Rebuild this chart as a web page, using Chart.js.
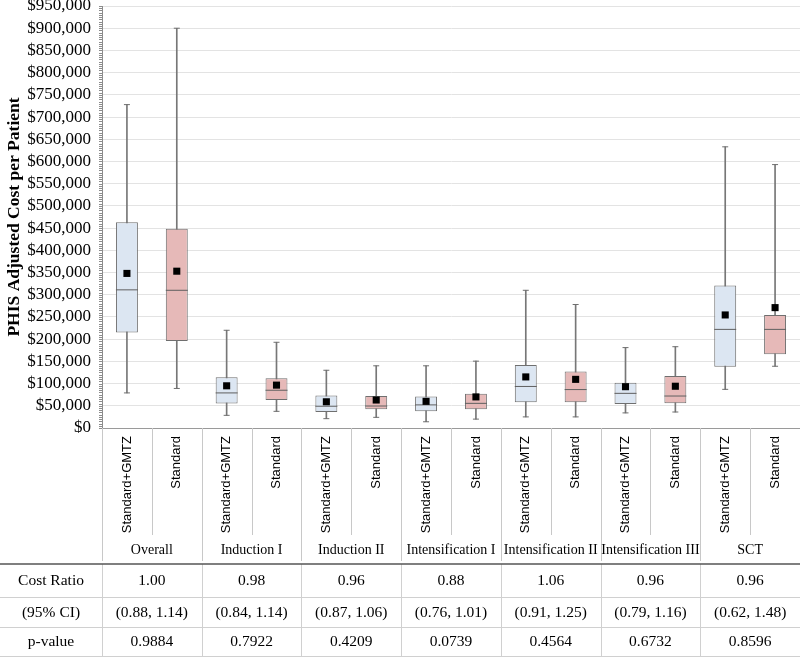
<!DOCTYPE html>
<html lang="en">
<head>
  <meta charset="UTF-8" />
  <title>PHIS Adjusted Cost per Patient</title>
  <script src="https://cdn.jsdelivr.net/npm/chart.js"></script>
  <style>
    body { margin: 0; background: #fff; }
    #wrap { width: 800px; height: 658px; }
  </style>
</head>
<body>
  <div id="wrap"><canvas id="grafica" width="800" height="658"></canvas></div>
  <script>
    // categories
    const grupos = ['Overall', 'Induction I', 'Induction II', 'Intensification I', 'Intensification II', 'Intensification III', 'SCT'];
    const brazos = ['Standard+GMTZ', 'Standard'];

    // box plot values, one per box (GMTZ, Standard alternating)
    const minimos = [79000, 89000, 28500, 37500, 21000, 24000, 14000, 20000, 25000, 25000, 34000, 36000, 87000, 139000];
    const q1 = [215000, 196000, 55000, 63000, 36000, 42000, 37500, 42000, 58000, 58000, 54000, 55500, 138000, 166000];
    const medianas = [311000, 310000, 79000, 85000, 49000, 49500, 52000, 55500, 93500, 86500, 78000, 72000, 222000, 222000];
    const q3 = [463000, 448500, 114000, 112000, 73000, 72000, 71000, 77000, 142000, 127000, 102000, 117000, 321000, 254500];
    const maximos = [728000, 900000, 220000, 193000, 130000, 140000, 140000, 150500, 310000, 278000, 181000, 183000, 633000, 593000];
    const medias = [348000, 353000, 95000, 96500, 59000, 63000, 60000, 70000, 115000, 109500, 93000, 94000, 254500, 271000];

    // table below the chart
    const filasTabla = ['Cost Ratio', '(95% CI)', 'p-value'];
    const razonCosto = ['1.00', '0.98', '0.96', '0.88', '1.06', '0.96', '0.96'];
    const intervalos = ['(0.88, 1.14)', '(0.84, 1.14)', '(0.87, 1.06)', '(0.76, 1.01)', '(0.91, 1.25)', '(0.79, 1.16)', '(0.62, 1.48)'];
    const valoresP = ['0.9884', '0.7922', '0.4209', '0.0739', '0.4564', '0.6732', '0.8596'];

    const etiquetas = [];
    grupos.forEach(() => brazos.forEach(b => etiquetas.push(b)));
    const rellenos = etiquetas.map((e, i) => i % 2 === 0 ? '#dce6f2' : '#e6b9b8');

    const SERIF = "'Liberation Serif', 'Times New Roman', serif";
    const SANS = "'Liberation Sans', Arial, sans-serif";

    const tablaPlugin = {
      id: 'tabla',
      afterDraw(chart) {
        const ctx = chart.ctx;
        const x = chart.scales.x;
        const y = chart.scales.y;
        const ancho = x.width / etiquetas.length;
        const base = chart.chartArea.bottom;
        const left = chart.chartArea.left;
        ctx.save();

        // minor ticks on the y axis
        ctx.strokeStyle = '#8c8c8c';
        ctx.lineWidth = 1;
        ctx.beginPath();
        for (let v = 0; v <= 950000; v += 5000) {
          const py = Math.round(y.getPixelForValue(v)) + 0.5;
          ctx.moveTo(left - 3, py);
          ctx.lineTo(left, py);
        }
        ctx.stroke();

        // separators in the category area
        ctx.strokeStyle = '#c8c8c8';
        ctx.beginPath();
        for (let i = 0; i < etiquetas.length; i++) {
          const px = Math.round(left + i * ancho) + 0.5;
          ctx.moveTo(px, base);
          ctx.lineTo(px, i % 2 === 0 ? 561 : 535);
        }
        ctx.stroke();

        // group labels
        ctx.fillStyle = '#000';
        ctx.font = '14px ' + SERIF;
        ctx.textAlign = 'center';
        ctx.textBaseline = 'middle';
        grupos.forEach((g, i) => {
          ctx.fillText(g, left + (i * 2 + 1) * ancho, 550);
        });

        // table lines
        const lineasY = [597, 627, 656];
        ctx.strokeStyle = '#d0d0d0';
        ctx.beginPath();
        lineasY.forEach(ly => { ctx.moveTo(0, ly + 0.5); ctx.lineTo(800, ly + 0.5); });
        for (let g = 0; g < grupos.length; g++) {
          const px = Math.round(left + g * 2 * ancho) + 0.5;
          ctx.moveTo(px, 564);
          ctx.lineTo(px, 656);
        }
        ctx.stroke();
        ctx.strokeStyle = '#555';
        ctx.lineWidth = 1.5;
        ctx.beginPath();
        ctx.moveTo(0, 564);
        ctx.lineTo(800, 564);
        ctx.stroke();

        // table text
        ctx.font = '15.5px ' + SERIF;
        const filasY = [581, 612.5, 641.5];
        const columnas = [razonCosto, intervalos, valoresP];
        filasTabla.forEach((f, r) => {
          ctx.fillText(f, left / 2, filasY[r]);
          columnas[r].forEach((t, g) => {
            ctx.fillText(t, left + (g * 2 + 1) * ancho, filasY[r]);
          });
        });
        ctx.restore();
      }
    };

    new Chart(document.getElementById('grafica'), {
      type: 'bar',
      data: {
        labels: etiquetas,
        datasets: [
          {
            type: 'line', label: 'Mean', data: medias, showLine: false,
            pointStyle: 'rect', pointRadius: 5, pointBackgroundColor: '#000', pointBorderColor: '#000', pointBorderWidth: 0
          },
          {
            type: 'line', label: 'Median', data: medianas, showLine: false,
            pointStyle: 'line', pointRadius: 11, pointBorderColor: '#5f5f5f', pointBorderWidth: 1
          },
          {
            type: 'line', label: 'Max', data: maximos, showLine: false,
            pointStyle: 'line', pointRadius: 3, pointBorderColor: '#6f6f6f', pointBorderWidth: 1
          },
          {
            type: 'line', label: 'Min', data: minimos, showLine: false,
            pointStyle: 'line', pointRadius: 3, pointBorderColor: '#6f6f6f', pointBorderWidth: 1
          },
          {
            label: 'Box', data: q1.map((v, i) => [v, q3[i]]), grouped: false,
            backgroundColor: rellenos, borderColor: '#6f6f6f', borderWidth: 1, borderSkipped: false,
            categoryPercentage: 1, barPercentage: 0.44
          },
          {
            label: 'Whisker', data: minimos.map((v, i) => [v, maximos[i]]), grouped: false,
            backgroundColor: '#777', barThickness: 1
          }
        ]
      },
      options: {
        responsive: false,
        animation: false,
        events: [],
        layout: { autoPadding: false, padding: { top: 6, right: 0, bottom: 95, left: 0 } },
        plugins: { legend: { display: false }, tooltip: { enabled: false } },
        scales: {
          x: {
            type: 'category',
            offset: true,
            grid: { display: false, drawTicks: false },
            border: { color: '#9a9a9a' },
            ticks: {
              minRotation: 90, maxRotation: 90, autoSkip: false, padding: 8,
              color: '#000', font: { family: SANS, size: 13 }
            },
            afterFit(s) { s.height = 135; s.paddingLeft = 0; s.paddingRight = 0; }
          },
          y: {
            min: 0, max: 950000,
            grid: { color: '#e3e3e3', drawTicks: false },
            border: { color: '#8c8c8c' },
            ticks: {
              stepSize: 50000, autoSkip: false, padding: 11, color: '#000',
              font: { family: SERIF, size: 17 },
              callback: v => '$' + Number(v).toLocaleString('en-US')
            },
            title: {
              display: true, text: 'PHIS Adjusted Cost per Patient', color: '#000',
              font: { family: SERIF, size: 17.5, weight: 'bold' }, padding: { top: 4, bottom: 0 }
            },
            afterFit(s) { s.width = 102; s.paddingTop = 0; s.paddingBottom = 0; }
          }
        }
      },
      plugins: [tablaPlugin]
    });
  </script>
</body>
</html>
